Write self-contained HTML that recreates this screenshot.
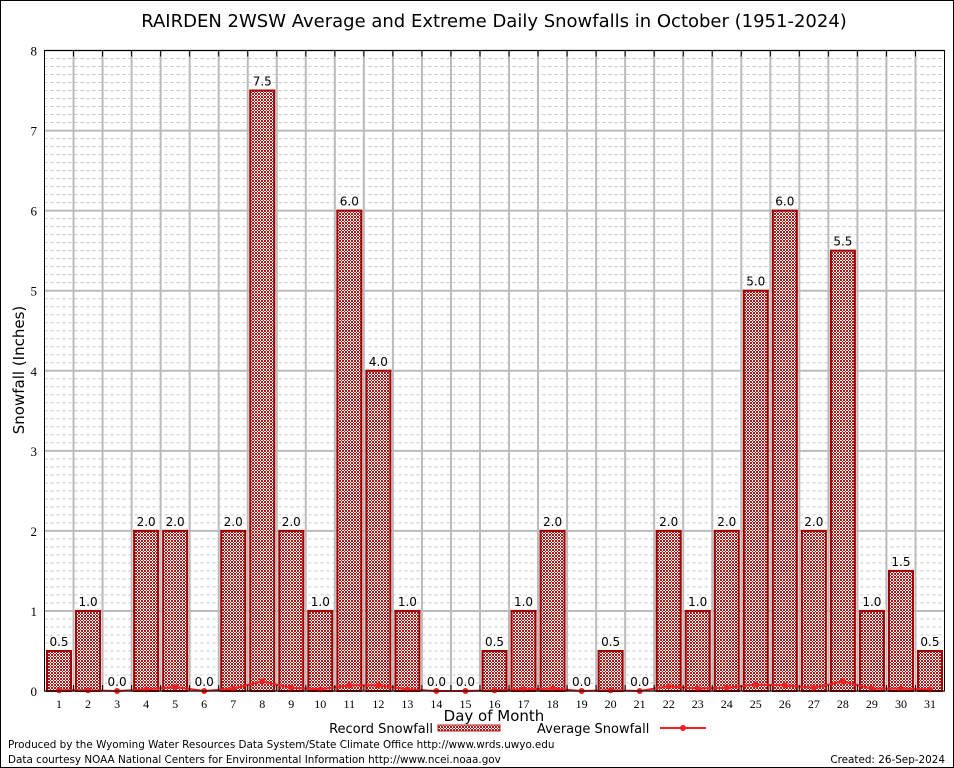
<!DOCTYPE html>
<html><head><meta charset="utf-8"><style>
body{margin:0;background:#fff}
svg{display:block}
</style></head><body>
<svg width="954" height="768" viewBox="0 0 954 768" xmlns="http://www.w3.org/2000/svg">
<defs>
<pattern id="chk" width="3" height="3" patternUnits="userSpaceOnUse">
<rect width="3" height="3" fill="#fff"/>
<rect width="2" height="2" fill="#b01818"/>
<rect x="2" y="2" width="1" height="1" fill="#b01818"/>
</pattern>
</defs>
<rect x="0.5" y="0.5" width="953" height="767" fill="#fff" stroke="#000"/>
<text x="494" y="27" text-anchor="middle" font-family="DejaVu Sans, sans-serif" font-size="18">RAIRDEN 2WSW Average and Extreme Daily Snowfalls in October (1951-2024)</text>
<g id="grid"></g>
<g id="bars"></g>
<g id="avg"></g>
<rect x="44.5" y="50.5" width="900" height="640.5" fill="none" stroke="#000"/>
<g id="axes"></g>
<text transform="translate(24,370) rotate(-90)" text-anchor="middle" font-family="DejaVu Sans, sans-serif" font-size="15">Snowfall (Inches)</text>
<text x="494" y="721" text-anchor="middle" font-family="DejaVu Sans, sans-serif" font-size="15">Day of Month</text>
<g>
<text x="433" y="733" text-anchor="end" font-family="DejaVu Sans, sans-serif" font-size="13">Record Snowfall</text>
<rect x="438" y="725" width="62" height="6" fill="url(#chk)" stroke="#b01818"/>
<text x="537" y="733" font-family="DejaVu Sans, sans-serif" font-size="13">Average Snowfall</text>
<line x1="660" y1="728" x2="706" y2="728" stroke="#f02020" stroke-width="2"/>
<circle cx="683" cy="728" r="3" fill="#f02020"/>
</g>
<text x="8" y="748" font-family="DejaVu Sans, sans-serif" font-size="10.4">Produced by the Wyoming Water Resources Data System/State Climate Office http://www.wrds.uwyo.edu</text>
<text x="8" y="763" font-family="DejaVu Sans, sans-serif" font-size="10.4">Data courtesy NOAA National Centers for Environmental Information http://www.ncei.noaa.gov</text>
<text x="945" y="763" text-anchor="end" font-family="DejaVu Sans, sans-serif" font-size="10.4">Created:  26-Sep-2024</text>
</svg>
<script>
const days=[1,2,3,4,5,6,7,8,9,10,11,12,13,14,15,16,17,18,19,20,21,22,23,24,25,26,27,28,29,30,31];
const recordValues=[0.5,1,0,2,2,0,2,7.5,2,1,6,4,1,0,0,0.5,1,2,0,0.5,0,2,1,2,5,6,2,5.5,1,1.5,0.5];
const averageValues=[0.01,0.01,0,0.02,0.05,0,0.03,0.12,0.04,0.02,0.07,0.07,0.02,0,0,0.01,0.02,0.03,0,0.01,0,0.06,0.03,0.04,0.08,0.07,0.04,0.12,0.03,0.03,0.02];
const yTicks=[0,1,2,3,4,5,6,7,8];
const NS='http://www.w3.org/2000/svg';
const X0=44.5,X1=944.5,Y0=691,Y1=50.5,XMIN=0.5,XMAX=31.5,YMAX=8;
const xs=v=>X0+(v-XMIN)/(XMAX-XMIN)*(X1-X0);
const ys=v=>Y0-v/YMAX*(Y0-Y1);
function mk(tag,attrs,parent){const e=document.createElementNS(NS,tag);for(const k in attrs)e.setAttribute(k,attrs[k]);parent.appendChild(e);return e;}
const grid=document.getElementById('grid'),bars=document.getElementById('bars'),avg=document.getElementById('avg'),axes=document.getElementById('axes');
for(let i=1;i<80;i++){if(i%10===0)continue;const y=ys(i/10);const l=mk('line',{x1:X0,x2:X1,y1:y,y2:y,stroke:'#c8c8c8','stroke-dasharray':'3,3'},grid);

}
yTicks.forEach(t=>{const y=ys(t);const l=mk('line',{x1:X0,x2:X1,y1:y,y2:y,stroke:'#bbb','stroke-width':2},grid);


const tx=mk('text',{x:37,y:y+5,'text-anchor':'end','font-family':'Liberation Serif, serif','font-size':13},axes);tx.textContent=t;

});
for(let d=1;d<31;d++){const x=xs(d+0.5);const l=mk('line',{x1:x,x2:x,y1:Y1,y2:Y0,stroke:'#bbb','stroke-width':2},grid);


const t1=mk('line',{x1:x,x2:x,y1:Y1,y2:Y1+6,stroke:'#000'},axes);


const t2=mk('line',{x1:x,x2:x,y1:Y0,y2:Y0-6,stroke:'#000'},axes);

}
days.forEach((d,i)=>{const x=xs(d),v=recordValues[i];
if(v>0){const r=mk('rect',{x:x-12,y:ys(v),width:24,height:Y0-ys(v),fill:'url(#chk)',stroke:'#a00000','stroke-width':2},bars);

}
const t=mk('text',{x:x,y:ys(v)-5,'text-anchor':'middle','font-family':'DejaVu Sans, sans-serif','font-size':12},bars);t.textContent=v.toFixed(1);


const xl=mk('text',{x:x,y:708,'text-anchor':'middle','font-family':'Liberation Serif, serif','font-size':12},axes);xl.textContent=d;

});
const pl=mk('polyline',{points:days.map((d,i)=>xs(d)+','+ys(averageValues[i])).join(' '),fill:'none',stroke:'#f02020','stroke-width':2},avg);


days.forEach((d,i)=>{const c=mk('circle',{cx:xs(d),cy:ys(averageValues[i]),r:3,fill:'#f02020'},avg);

});
</script>
</body></html>
